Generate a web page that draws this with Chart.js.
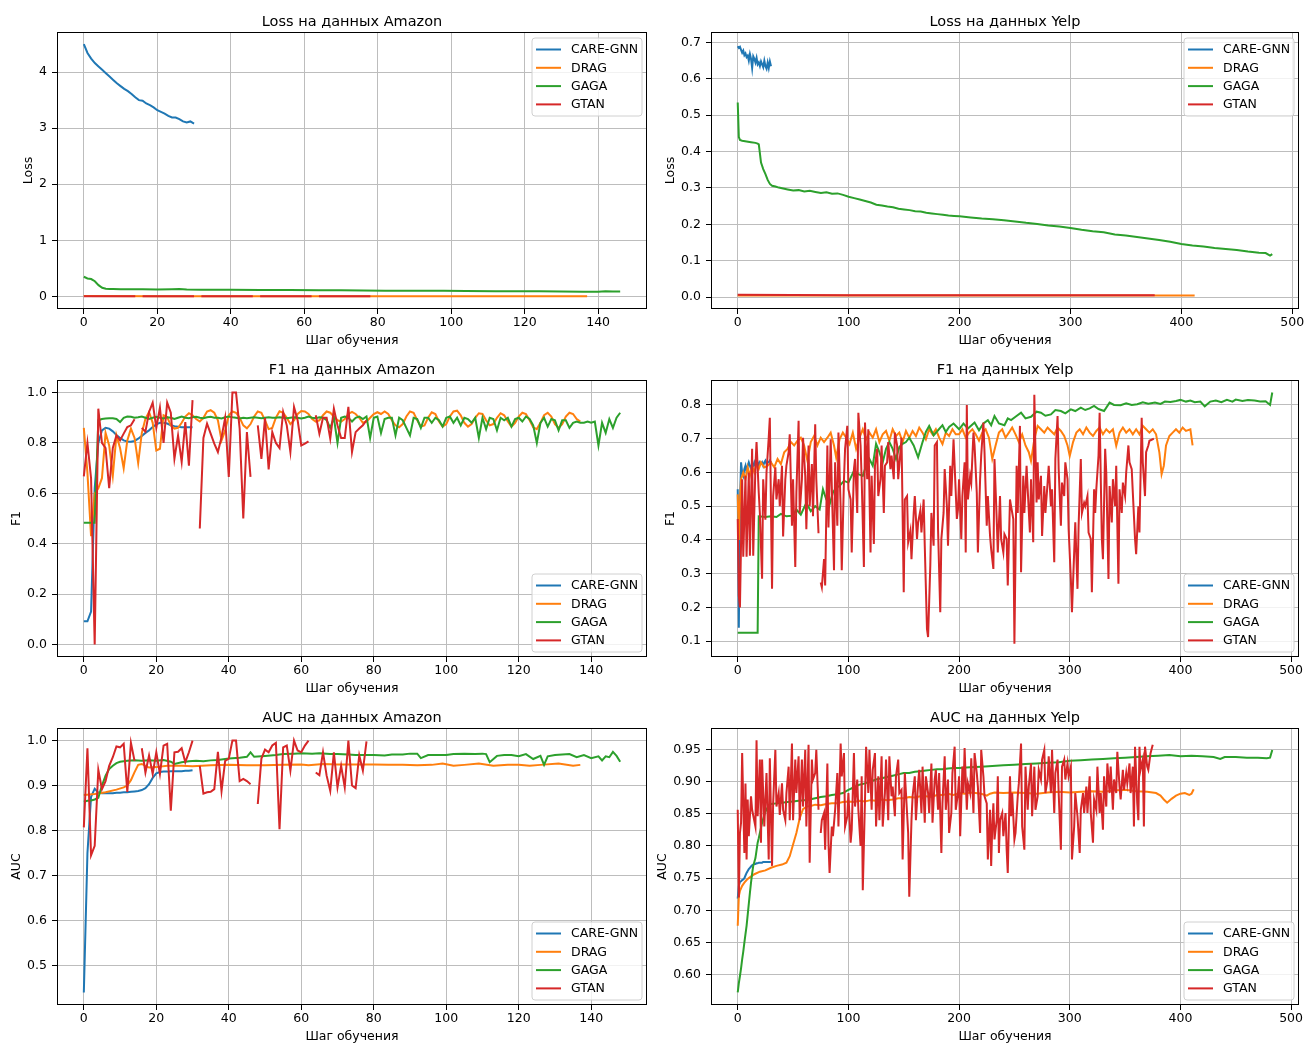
<!DOCTYPE html>
<html>
<head>
<meta charset="utf-8">
<script src="https://cdn.jsdelivr.net/npm/chart.js@4.4.0/dist/chart.umd.min.js"></script>
<style>
  body { margin: 0; background: #fff; }
  #wrap { position: relative; width: 1304px; height: 1044px; overflow: hidden; }
  .panel { position: absolute; width: 652px; height: 348px; }
</style>
</head>
<body>
<div id="wrap">
  <div class="panel" style="left:0;top:0"><canvas id="lossAmz" width="652" height="348"></canvas></div>
  <div class="panel" style="left:652px;top:0"><canvas id="lossYelp" width="652" height="348"></canvas></div>
  <div class="panel" style="left:0;top:348px"><canvas id="f1Amz" width="652" height="348"></canvas></div>
  <div class="panel" style="left:652px;top:348px"><canvas id="f1Yelp" width="652" height="348"></canvas></div>
  <div class="panel" style="left:0;top:696px"><canvas id="aucAmz" width="652" height="348"></canvas></div>
  <div class="panel" style="left:652px;top:696px"><canvas id="aucYelp" width="652" height="348"></canvas></div>
</div>
<script>
const seriesNames = ['CARE-GNN', 'DRAG', 'GAGA', 'GTAN'];
const seriesColors = ['#1f77b4', '#ff7f0e', '#2ca02c', '#d62728'];

const amzTicksX = [0, 20, 40, 60, 80, 100, 120, 140];
const yelpTicksX = [0, 100, 200, 300, 400, 500];
const lossAmzTicksY = [0, 1, 2, 3, 4];
const lossYelpTicksY = [0, 0.1, 0.2, 0.3, 0.4, 0.5, 0.6, 0.7];
const f1AmzTicksY = [0, 0.2, 0.4, 0.6, 0.8, 1.0];
const f1YelpTicksY = [0.1, 0.2, 0.3, 0.4, 0.5, 0.6, 0.7, 0.8];
const aucAmzTicksY = [0.5, 0.6, 0.7, 0.8, 0.9, 1.0];
const aucYelpTicksY = [0.6, 0.65, 0.7, 0.75, 0.8, 0.85, 0.9, 0.95];

// ---- Loss, Amazon ----
const careLossAmz = [4.5,4.34,4.24,4.16,4.1,4.04,3.98,3.92,3.86,3.8,3.75,3.7,3.66,3.61,3.55,3.5,3.49,3.44,3.41,3.37,3.32,3.29,3.26,3.22,3.19,3.19,3.16,3.12,3.1,3.12,3.08];
const dragLossAmz = [[0,0.006],[20,0.005],[40,0.005],[60,0.004],[80,0.004],[100,0.004],[120,0.003],[137,0.003]];
const gagaLossAmz = [[0,0.35],[1,0.32],[2,0.31],[3,0.27],[4,0.2],[5,0.155],[6,0.138],[7,0.132],[8,0.13],[10,0.128],[13,0.127],[16,0.126],[20,0.124],[24,0.127],[26,0.13],[28,0.124],[32,0.12],[40,0.118],[48,0.116],[56,0.113],[64,0.11],[70,0.109],[76,0.106],[82,0.1],[90,0.099],[98,0.1],[104,0.095],[112,0.093],[118,0.092],[124,0.09],[130,0.087],[136,0.085],[140,0.083],[142,0.09],[144,0.087],[146,0.089]];
const gtanLossAmz = [[0,0.004],[7,0.003],[14,0.003],[15,null],[16,0.003],[23,0.003],[30,0.003],[31,null],[32,0.003],[39,0.003],[46,0.003],[47,null],[48,0.003],[55,0.003],[62,0.003],[63,null],[64,0.003],[71,0.003],[78,0.003]];

// ---- Loss, Yelp ----
const careLossYelp = [0.69,0.685,0.688,0.68,0.672,0.678,0.665,0.67,0.66,0.664,0.65,0.668,0.655,0.63,0.662,0.655,0.645,0.658,0.64,0.645,0.635,0.648,0.64,0.632,0.65,0.635,0.628,0.645,0.63,0.648,0.635];
const dragLossYelp = [[0,0.004],[100,0.004],[200,0.004],[300,0.004],[412,0.004]];
const gagaLossYelp = [[0,0.535],[1,0.44],[2,0.432],[4,0.43],[8,0.428],[12,0.426],[16,0.424],[18,0.422],[19,0.42],[20,0.395],[21,0.37],[23,0.352],[25,0.338],[27,0.322],[29,0.311],[31,0.306],[34,0.304],[37,0.301],[40,0.299],[45,0.296],[50,0.293],[55,0.294],[60,0.29],[65,0.292],[70,0.289],[75,0.286],[80,0.288],[85,0.284],[90,0.285],[95,0.281],[100,0.276],[105,0.272],[110,0.268],[115,0.264],[120,0.26],[125,0.254],[130,0.252],[135,0.249],[140,0.247],[145,0.243],[150,0.241],[155,0.239],[160,0.236],[165,0.235],[170,0.232],[175,0.23],[180,0.228],[185,0.226],[190,0.224],[195,0.223],[200,0.222],[210,0.219],[220,0.216],[230,0.214],[240,0.211],[250,0.208],[260,0.204],[270,0.201],[280,0.197],[290,0.194],[300,0.19],[310,0.185],[320,0.181],[330,0.178],[340,0.172],[350,0.169],[360,0.165],[370,0.161],[380,0.157],[390,0.152],[400,0.146],[410,0.142],[420,0.139],[430,0.135],[440,0.132],[450,0.129],[460,0.125],[470,0.122],[476,0.121],[480,0.114],[482,0.118]];
const gtanLossYelp = [[0,0.006],[100,0.005],[200,0.005],[300,0.005],[376,0.005]];

// ---- F1, Amazon ----
const careF1Amz = [0.092,0.092,0.13,0.62,0.8,0.85,0.86,0.857,0.846,0.832,0.82,0.81,0.806,0.805,0.808,0.817,0.828,0.84,0.85,0.863,0.874,0.88,0.88,0.877,0.87,0.866,0.864,0.862,0.862,0.862,0.862];
const dragF1Amz = [0.86,0.68,0.43,0.6,0.62,0.66,0.84,0.79,0.67,0.83,0.78,0.7,0.81,0.857,0.82,0.72,0.84,0.896,0.923,0.88,0.77,0.777,0.91,0.903,
  0.87,0.857,0.86,0.88,0.905,0.918,0.91,0.895,0.885,0.9,0.925,0.93,0.92,0.89,0.81,0.85,0.91,0.925,0.92,0.9,0.87,0.858,0.875,0.905,0.925,0.92,0.89,0.855,0.86,0.9,0.926,0.92,0.9,0.875,0.89,0.915,
  0.927,0.925,0.915,0.895,0.885,0.89,0.91,0.925,0.92,0.905,0.89,0.885,0.895,0.915,0.923,0.915,0.9,0.88,0.885,0.9,0.915,0.922,0.915,
  0.925,0.915,0.89,0.87,0.862,0.875,0.905,0.925,0.92,0.89,0.865,0.87,0.9,0.922,0.915,0.885,0.865,0.875,0.905,0.925,0.928,0.91,0.88,0.865,0.875,0.9,0.918,0.915,0.89,0.87,0.875,0.9,0.918,0.91,0.885,0.865,0.88,0.905,0.92,0.915,0.89,0.862,0.855,0.88,0.91,0.92,0.905,0.875,0.86,0.875,0.905,0.92,0.915,0.895,0.885];
const gagaF1Amz = [0.483,0.483,0.483,0.483,0.89,0.895,0.897,0.898,0.898,0.895,
  0.883,0.9,0.905,0.904,0.9,0.902,0.905,0.9,0.895,0.9,
  0.904,0.9,0.897,0.902,0.9,0.895,0.9,0.905,0.9,0.898,
  0.902,0.904,0.9,0.898,0.902,0.904,0.9,0.9,0.897,0.902,
  0.905,0.902,0.9,0.897,0.9,0.898,0.9,0.902,0.9,0.898,
  0.9,0.902,0.9,0.9,0.902,0.9,0.898,0.9,0.902,0.9,
  0.897,0.9,0.905,0.9,0.898,0.902,0.9,0.89,0.86,0.9,
  0.8,0.9,0.905,0.9,0.885,0.9,0.905,0.895,0.905,0.82,
  0.9,0.905,0.84,0.895,0.9,0.9,0.83,0.9,0.89,0.86,
  0.83,0.9,0.895,0.86,0.9,0.9,0.88,0.9,0.89,0.865,
  0.9,0.905,0.88,0.9,0.87,0.9,0.895,0.88,0.9,0.82,
  0.9,0.855,0.9,0.895,0.85,0.9,0.89,0.9,0.865,0.895,
  0.9,0.885,0.905,0.895,0.87,0.8,0.88,0.9,0.865,0.895,
  0.89,0.85,0.89,0.89,0.86,0.88,0.885,0.88,0.88,0.885,
  0.88,0.885,0.79,0.88,0.84,0.895,0.86,0.9,0.92];
const gtanF1Amz = [0.667,0.8,0.66,0.0,0.936,0.8,0.78,0.62,0.78,0.83,0.81,0.837,0.863,0.87,0.894,null,
  0.86,0.845,0.923,0.96,0.86,0.94,0.8,0.96,0.92,0.737,0.83,0.725,0.883,0.71,0.97,null,
  0.46,0.82,0.877,0.837,0.797,0.764,0.823,0.9,0.665,1.0,1.0,0.857,0.5,0.843,0.665,null,
  0.87,0.737,0.9,0.695,0.843,0.8,0.78,0.923,0.87,0.764,0.943,0.89,0.79,0.797,0.806,null,
  0.91,0.837,0.9,0.9,0.817,0.936,0.87,0.82,0.82,0.943,0.764,0.843,0.857,0.87,0.89];

// ---- F1, Yelp ----
const careF1Yelp = [0.55,0.14,0.5,0.63,0.6,0.59,0.61,0.62,0.6,0.62,0.63,0.62,0.61,0.625,0.62,0.63,0.62,0.625,0.63,0.62,0.63,0.625,0.63,0.62,0.63,0.635,0.625,0.63,0.63,0.635,0.63];
const dragF1Yelp = [[0,0.535],[1,0.4],[2,0.51],[3,0.58],[5,0.6],[7,0.58],[9,0.615],[11,0.59],[13,0.62],[15,0.6],[17,0.625],[19,0.61],[21,0.63],[24,0.615],[27,0.62],[30,0.63],[33,0.615],[36,0.64],[39,0.625],[42,0.66],[45,0.67],[48,0.69],[51,0.68],[54,0.694],[57,0.703],[60,0.68],[63,0.634],[66,0.69],[69,0.708],[72,0.68],[75,0.703],[78,0.69],[81,0.703],[84,0.718],[87,0.68],[89,0.644],[92,0.698],[95,0.718],[98,0.703],[101,0.684],[104,0.718],[107,0.67],[110,0.703],[113,0.728],[116,0.698],[119,0.718],[122,0.703],[125,0.728],[128,0.69],[131,0.713],[134,0.723],[137,0.694],[140,0.728],[143,0.708],[146,0.718],[149,0.69],[152,0.723],[155,0.703],[158,0.723],[161,0.708],[164,0.733],[167,0.718],[170,0.698],[173,0.728],[176,0.713],[179,0.728],[182,0.703],[185,0.684],[188,0.718],[191,0.708],[194,0.728],[197,0.713],[200,0.713],[203,0.728],[206,0.703],[209,0.718],[212,0.728],[215,0.713],[218,0.694],[221,0.718],[224,0.728],[227,0.703],[230,0.64],[233,0.68],[236,0.718],[239,0.728],[242,0.703],[245,0.718],[248,0.733],[251,0.713],[254,0.69],[257,0.713],[260,0.68],[263,0.66],[265,0.634],[268,0.698],[271,0.738],[274,0.728],[277,0.718],[280,0.733],[283,0.723],[286,0.713],[289,0.733],[292,0.723],[295,0.708],[298,0.68],[300,0.649],[303,0.69],[306,0.718],[309,0.728],[312,0.713],[315,0.733],[318,0.718],[321,0.708],[324,0.723],[327,0.733],[330,0.713],[333,0.728],[336,0.718],[339,0.728],[342,0.679],[345,0.718],[348,0.733],[351,0.718],[354,0.728],[357,0.713],[360,0.728],[363,0.713],[366,0.738],[369,0.728],[372,0.718],[375,0.728],[378,0.713],[381,0.659],[383,0.595],[385,0.62],[387,0.68],[390,0.708],[393,0.718],[396,0.728],[399,0.718],[402,0.733],[405,0.723],[409,0.728],[411,0.68]];
const gagaF1Yelp = [[0,0.125],[18,0.125],[19,0.47],[25,0.468],[30,0.47],[35,0.468],[39,0.477],[44,0.47],[50,0.472],[53,0.49],[57,0.475],[62,0.51],[66,0.485],[70,0.5],[74,0.49],[77,0.55],[80,0.52],[83,0.505],[86,0.54],[89,0.555],[92,0.56],[96,0.575],[100,0.57],[105,0.605],[109,0.595],[113,0.59],[116,0.62],[119,0.64],[122,0.62],[125,0.685],[128,0.66],[131,0.63],[134,0.67],[137,0.69],[140,0.67],[143,0.64],[146,0.675],[149,0.685],[152,0.69],[155,0.703],[159,0.68],[163,0.645],[167,0.69],[170,0.72],[173,0.738],[177,0.71],[181,0.725],[185,0.74],[188,0.72],[191,0.735],[195,0.745],[200,0.728],[204,0.745],[208,0.73],[214,0.748],[218,0.725],[222,0.745],[226,0.755],[229,0.74],[232,0.767],[236,0.745],[241,0.74],[244,0.76],[247,0.755],[251,0.765],[256,0.777],[260,0.76],[265,0.765],[270,0.78],[274,0.777],[278,0.768],[283,0.772],[287,0.785],[292,0.782],[296,0.775],[301,0.787],[305,0.782],[310,0.792],[314,0.785],[318,0.79],[322,0.797],[326,0.788],[331,0.782],[336,0.807],[340,0.8],[346,0.799],[351,0.805],[356,0.8],[361,0.802],[366,0.808],[371,0.804],[377,0.807],[382,0.803],[386,0.81],[391,0.809],[396,0.812],[400,0.815],[405,0.81],[409,0.813],[413,0.808],[418,0.81],[422,0.796],[427,0.81],[432,0.813],[437,0.808],[442,0.815],[447,0.81],[450,0.816],[456,0.812],[461,0.815],[467,0.813],[472,0.81],[477,0.811],[481,0.8],[483,0.837]];
const gtanF1Yelp = [[0,0.462],[1,0.235],[2,0.2],[4,0.58],[5,0.35],[7,0.59],[8,0.35],[10,0.6],[11,0.353],[13,0.67],[14,0.353],[16,0.62],[17,0.69],[19,0.54],[20,0.48],[22,0.285],[23,0.58],[25,0.46],[26,0.6],[28,0.703],[29,0.762],[31,0.255],[32,0.53],[34,0.615],[35,0.52],[37,0.58],[38,0.5],[40,0.62],[41,0.41],[43,0.58],[44,0.62],[46,0.66],[47,0.713],[49,0.442],[50,0.58],[52,0.32],[53,0.54],[55,0.753],[56,0.48],[58,0.58],[59,0.703],[61,0.59],[62,0.432],[64,0.68],[65,0.5],[67,0.625],[68,0.47],[70,0.743],[71,0.58],[73,0.42],[74,null],[75,0.274],[76,0.26],[78,0.343],[79,0.265],[81,0.68],[82,0.437],[84,0.698],[85,0.56],[87,0.31],[88,0.63],[90,0.442],[91,0.718],[93,0.496],[94,0.31],[96,0.58],[97,0.67],[99,0.738],[100,0.55],[102,0.52],[103,0.363],[105,0.61],[106,0.64],[108,0.48],[109,0.777],[111,0.68],[112,0.58],[114,0.32],[115,0.748],[117,0.58],[118,0.728],[120,0.363],[121,0.59],[123,0.388],[124,0.62],[126,0.67],[127,0.53],[129,0.58],[130,0.68],[132,0.48],[133,0.62],[135,0.63],[136,0.69],[138,0.61],[139,0.65],[141,0.58],[142,0.718],[144,0.68],[145,0.58],[147,0.66],[148,0.703],[150,0.245],[151,0.52],[153,0.53],[154,0.393],[156,0.427],[157,0.343],[159,0.48],[160,0.53],[162,0.403],[163,0.452],[165,0.487],[166,0.422],[168,0.52],[169,0.383],[171,0.136],[172,0.112],[174,0.324],[175,0.48],[177,0.383],[178,0.68],[180,0.69],[181,0.432],[183,0.186],[184,0.403],[186,0.48],[187,0.61],[189,0.5],[190,0.383],[192,0.62],[193,0.53],[195,0.698],[196,0.62],[198,0.462],[199,0.49],[200,0.58],[202,0.403],[203,0.53],[205,0.63],[206,0.363],[207,0.8],[208,0.52],[210,0.59],[211,0.57],[213,0.718],[214,0.68],[216,0.54],[217,0.363],[219,0.58],[220,0.65],[222,0.748],[223,0.66],[225,0.442],[226,0.53],[228,0.412],[229,0.373],[231,0.314],[232,0.64],[234,0.462],[235,0.363],[237,0.53],[238,0.403],[240,0.363],[241,0.417],[243,0.403],[244,0.265],[246,0.52],[247,0.5],[249,0.462],[250,0.092],[252,0.62],[253,0.48],[255,0.738],[256,0.304],[258,0.59],[259,0.48],[261,0.62],[262,0.55],[264,0.422],[265,0.58],[267,0.393],[268,0.83],[270,0.511],[271,0.63],[272,0.52],[274,0.59],[275,0.412],[277,0.56],[278,0.48],[280,0.57],[281,0.62],[283,0.5],[284,0.55],[286,0.334],[287,0.64],[289,0.767],[290,0.61],[292,0.442],[293,0.57],[295,0.53],[296,0.63],[298,0.58],[299,0.432],[301,0.284],[302,0.186],[304,0.363],[305,0.452],[307,0.255],[308,0.442],[310,0.64],[311,0.48],[313,0.51],[314,0.5],[316,0.53],[317,0.422],[319,0.403],[320,0.245],[322,0.55],[323,0.48],[324,0.55],[326,0.65],[327,0.777],[329,0.403],[330,0.343],[332,0.67],[333,0.6],[335,0.284],[336,0.56],[338,0.452],[339,0.58],[341,0.5],[342,0.62],[344,0.27],[345,0.55],[347,0.48],[348,0.57],[350,0.53],[351,0.6],[353,0.68],[354,0.63],[356,0.61],[357,0.54],[359,0.403],[360,0.358],[362,0.5],[363,0.422],[365,0.762],[366,0.63],[368,0.53],[369,0.66],[371,0.68],[372,0.694],[374,0.697],[376,0.7]];

// ---- AUC, Amazon ----
const careAucAmz = [0.44,0.75,0.875,0.893,0.884,0.883,0.883,0.883,0.883,0.884,0.884,0.885,0.885,0.886,0.887,0.888,0.89,0.894,0.903,0.917,0.927,0.93,0.931,0.931,0.932,0.932,0.932,0.932,0.933,0.933,0.934];
const dragAucAmz = [[0,0.879],[3,0.881],[6,0.885],[9,0.891],[11,0.896],[12,0.9],[13,0.912],[14,0.93],[15,0.946],[16,0.948],[17,0.944],[18,0.94],[20,0.941],[23,0.944],[27,0.944],[30,0.943],[35,0.945],[40,0.946],[45,0.945],[50,0.945],[55,0.946],[60,0.947],[62,0.945],[66,0.948],[70,0.947],[75,0.947],[80,0.947],[84,0.946],[88,0.946],[92,0.945],[96,0.946],[99,0.949],[102,0.944],[105,0.946],[109,0.949],[113,0.944],[117,0.946],[120,0.946],[123,0.944],[126,0.946],[131,0.949],[135,0.944],[137,0.946]];
const gagaAucAmz = [[0,0.864],[1,0.866],[2,0.867],[3,0.869],[4,0.873],[5,0.9],[6,0.922],[7,0.937],[8,0.944],[9,0.95],[10,0.953],[12,0.955],[14,0.956],[16,0.955],[18,0.956],[20,0.955],[22,0.957],[24,0.953],[25,0.948],[27,0.952],[29,0.954],[31,0.955],[33,0.954],[35,0.956],[37,0.957],[40,0.96],[43,0.962],[45,0.964],[46,0.974],[47,0.964],[50,0.966],[53,0.968],[55,0.97],[58,0.971],[60,0.972],[63,0.971],[65,0.972],[68,0.97],[70,0.97],[73,0.969],[75,0.968],[78,0.968],[80,0.968],[83,0.967],[85,0.969],[88,0.969],[90,0.971],[92,0.971],[93,0.961],[95,0.968],[98,0.968],[100,0.968],[102,0.97],[105,0.971],[108,0.97],[110,0.971],[111,0.97],[112,0.952],[114,0.966],[116,0.968],[118,0.968],[120,0.965],[122,0.97],[124,0.959],[126,0.966],[127,0.946],[128,0.965],[130,0.968],[132,0.969],[134,0.97],[136,0.963],[138,0.968],[140,0.961],[142,0.965],[143,0.956],[144,0.965],[145,0.963],[146,0.975],[147,0.966],[148,0.953]];
const gtanAucAmz = [0.807,0.983,0.745,0.766,0.935,0.892,0.91,0.944,0.963,0.987,0.985,0.993,0.886,0.995,0.955,null,
  0.983,0.929,0.967,0.926,0.974,0.926,0.989,0.993,0.844,0.974,0.975,0.983,0.952,0.974,1.0,null,
  0.944,0.882,0.885,0.886,0.892,0.975,0.888,0.955,0.96,1.0,1.0,0.91,0.915,0.91,0.903,null,
  0.859,0.96,0.98,0.974,0.989,0.995,0.803,0.985,0.989,0.933,1.0,0.978,0.974,0.989,1.0,null,
  0.929,0.923,0.974,0.922,0.888,0.974,0.896,0.944,0.896,1.0,0.9,0.894,0.967,0.933,0.998];

// ---- AUC, Yelp ----
const careAucYelp = [0.718,0.738,0.744,0.745,0.747,0.748,0.75,0.754,0.758,0.761,0.764,0.766,0.768,0.77,0.771,0.772,0.772,0.773,0.773,0.774,0.774,0.774,0.774,0.775,0.775,0.775,0.775,0.775,0.775,0.775,0.775];
const dragAucYelp = [[0,0.676],[1,0.722],[2,0.73],[4,0.738],[6,0.743],[8,0.747],[10,0.75],[15,0.756],[20,0.76],[25,0.762],[30,0.766],[35,0.769],[40,0.771],[44,0.774],[47,0.784],[50,0.802],[53,0.82],[56,0.843],[59,0.857],[62,0.861],[66,0.862],[70,0.864],[75,0.863],[80,0.865],[85,0.866],[90,0.866],[95,0.868],[100,0.869],[105,0.868],[110,0.87],[115,0.869],[120,0.871],[125,0.87],[130,0.872],[135,0.871],[140,0.872],[145,0.874],[150,0.874],[155,0.876],[160,0.875],[165,0.877],[170,0.877],[175,0.876],[180,0.879],[185,0.879],[190,0.881],[195,0.879],[200,0.882],[205,0.881],[210,0.883],[215,0.882],[220,0.881],[225,0.878],[228,0.881],[232,0.883],[240,0.882],[250,0.883],[260,0.882],[270,0.881],[280,0.883],[290,0.884],[300,0.883],[310,0.884],[320,0.885],[330,0.884],[340,0.886],[350,0.887],[360,0.885],[370,0.884],[378,0.882],[382,0.878],[385,0.872],[388,0.867],[392,0.873],[396,0.878],[400,0.881],[404,0.882],[408,0.879],[410,0.881],[412,0.888]];
const gagaAucYelp = [[0,0.5725],[1,0.587],[2,0.598],[3,0.61],[4,0.624],[5,0.636],[6,0.65],[7,0.663],[8,0.676],[9,0.693],[10,0.71],[11,0.727],[12,0.743],[13,0.757],[14,0.769],[15,0.775],[16,0.781],[17,0.793],[18,0.805],[19,0.812],[20,0.82],[21,0.828],[22,0.836],[23,0.842],[24,0.848],[26,0.857],[28,0.862],[30,0.865],[35,0.866],[40,0.867],[45,0.868],[50,0.869],[55,0.87],[60,0.871],[65,0.872],[70,0.874],[75,0.876],[80,0.877],[85,0.879],[90,0.88],[95,0.882],[100,0.887],[105,0.891],[110,0.895],[115,0.897],[120,0.9],[125,0.903],[130,0.905],[135,0.907],[140,0.909],[145,0.911],[150,0.913],[155,0.913],[160,0.915],[165,0.916],[170,0.917],[175,0.918],[180,0.919],[185,0.919],[190,0.92],[195,0.921],[200,0.921],[210,0.922],[220,0.923],[230,0.924],[240,0.925],[250,0.926],[260,0.927],[270,0.928],[280,0.929],[290,0.93],[300,0.932],[310,0.933],[320,0.934],[330,0.935],[340,0.936],[350,0.937],[360,0.938],[370,0.939],[380,0.94],[390,0.941],[400,0.939],[410,0.94],[420,0.939],[430,0.938],[436,0.935],[440,0.938],[450,0.938],[460,0.937],[470,0.937],[478,0.936],[481,0.937],[483,0.949]];
const gtanAucYelp = [[0,0.856],[1,0.72],[2,0.82],[3,0.836],[4,0.944],[6,0.789],[7,0.897],[8,0.779],[9,0.872],[10,0.815],[12,0.877],[13,0.856],[16,0.83],[17,0.964],[18,0.846],[20,0.934],[21,0.805],[22,0.934],[24,0.83],[25,0.872],[26,0.913],[28,0.779],[29,0.936],[31,0.769],[32,0.866],[34,0.949],[35,0.861],[37,0.882],[38,0.848],[40,0.897],[41,0.856],[43,0.84],[44,0.882],[46,0.923],[47,0.84],[49,0.959],[50,0.84],[52,0.934],[53,0.882],[55,0.939],[56,0.84],[58,0.934],[59,0.861],[61,0.949],[62,0.83],[64,0.957],[65,0.774],[67,0.934],[68,0.903],[70,0.913],[71,0.949],[73,0.856],[74,null],[75,0.82],[76,0.84],[78,0.851],[79,0.794],[81,0.928],[82,0.805],[83,0.758],[85,0.83],[86,0.815],[88,0.856],[90,0.913],[91,0.83],[93,0.959],[94,0.908],[96,0.944],[97,0.83],[99,0.846],[100,0.882],[102,0.805],[103,0.825],[105,0.944],[106,0.861],[108,0.903],[109,0.856],[111,0.8],[112,0.908],[113,0.731],[115,0.872],[116,0.954],[118,0.882],[119,0.949],[121,0.856],[122,0.918],[124,0.944],[125,0.83],[127,0.908],[128,0.84],[130,0.939],[131,0.83],[133,0.882],[134,0.934],[136,0.84],[137,0.939],[139,0.877],[140,0.892],[142,0.846],[143,0.908],[145,0.934],[146,0.882],[148,0.887],[149,0.779],[151,0.913],[152,0.882],[154,0.82],[155,0.721],[157,0.84],[158,0.877],[160,0.908],[161,0.84],[163,0.897],[164,0.918],[166,0.851],[167,0.923],[169,0.836],[170,0.908],[172,0.882],[173,0.851],[175,0.928],[176,0.836],[178,0.903],[179,0.918],[181,0.856],[182,0.913],[184,0.789],[185,0.866],[187,0.939],[188,0.856],[190,0.903],[191,0.82],[193,0.851],[194,0.913],[196,0.954],[197,0.856],[199,0.882],[200,0.908],[201,0.815],[203,0.923],[204,0.882],[205,0.952],[207,0.856],[208,0.897],[210,0.882],[211,0.936],[213,0.851],[214,0.944],[216,0.913],[217,0.892],[219,0.82],[220,0.949],[222,0.908],[223,0.877],[225,0.866],[226,0.779],[228,0.856],[229,0.769],[230,0.83],[231,0.866],[232,0.81],[234,0.84],[235,0.908],[236,0.789],[237,0.84],[239,0.851],[240,0.815],[242,0.851],[243,0.794],[244,0.758],[246,0.908],[247,0.846],[248,0.882],[250,0.81],[251,0.82],[253,0.877],[254,0.897],[256,0.959],[257,0.83],[259,0.794],[260,0.923],[262,0.856],[263,0.892],[265,0.928],[266,0.846],[268,0.923],[269,0.856],[271,0.877],[272,0.918],[274,0.903],[275,0.934],[277,0.949],[278,0.882],[280,0.903],[281,0.939],[283,0.882],[284,0.949],[286,0.851],[287,0.913],[289,0.934],[290,0.882],[292,0.794],[293,0.923],[295,0.934],[296,0.903],[298,0.928],[299,0.908],[301,0.923],[302,0.779],[304,0.83],[305,0.882],[307,0.846],[309,0.789],[310,0.856],[312,0.882],[313,0.851],[315,0.892],[316,0.851],[318,0.908],[319,0.851],[321,0.805],[322,0.872],[324,0.856],[325,0.923],[327,0.851],[328,0.882],[330,0.825],[331,0.908],[333,0.861],[334,0.928],[336,0.882],[337,0.923],[339,0.856],[340,0.903],[342,0.882],[343,0.946],[345,0.892],[346,0.872],[348,0.918],[349,0.887],[351,0.913],[352,0.897],[354,0.928],[355,0.882],[357,0.923],[358,0.83],[359,0.954],[361,0.866],[362,0.84],[363,0.954],[364,0.918],[366,0.934],[367,0.83],[368,0.954],[370,0.923],[371,0.918],[373,0.944],[375,0.957]];

const FONT = 'DejaVu Sans';
const byStep = vals => vals.map((v, i) => ({ x: i, y: v }));
const byPairs = pairs => pairs.map(([x, y]) => ({ x, y }));

// frame, title, axis titles and legend, drawn like matplotlib does
const panelDeco = {
  id: 'panelDeco',
  afterDraw(chart, args, o) {
    const { ctx, chartArea: a } = chart;
    ctx.save();
    ctx.strokeStyle = '#000';
    ctx.lineWidth = 1;
    ctx.strokeRect(Math.round(a.left) + 0.5, Math.round(a.top) + 0.5, Math.round(a.right - a.left) - 1, Math.round(a.bottom - a.top) - 1);

    ctx.fillStyle = '#000';
    ctx.textAlign = 'center';
    ctx.textBaseline = 'alphabetic';
    ctx.font = `14.5px "${FONT}"`;
    ctx.fillText(o.title, (a.left + a.right) / 2, a.top - 6.5);

    ctx.font = `12.5px "${FONT}"`;
    ctx.fillText('Шаг обучения', (a.left + a.right) / 2, a.bottom + 35);

    // y label sits left of the widest tick label
    const yScale = chart.scales.y;
    let maxW = 0;
    yScale.ticks.forEach(t => { maxW = Math.max(maxW, ctx.measureText(String(t.label)).width); });
    ctx.save();
    ctx.translate(a.left - 10 - maxW - 4 - 6, (a.top + a.bottom) / 2);
    ctx.rotate(-Math.PI / 2);
    ctx.textBaseline = 'middle';
    ctx.fillText(o.yLabel, 0, 0);
    ctx.restore();

    // legend box
    const w = 110, h = 78;
    const bx = a.right - 5.5 - w;
    const by = o.legend === 'upper' ? a.top + 5.5 : a.bottom - 5.5 - h;
    ctx.beginPath();
    ctx.roundRect(bx + 0.5, by + 0.5, w, h, 3);
    ctx.fillStyle = 'rgba(255,255,255,0.8)';
    ctx.fill();
    ctx.strokeStyle = '#d0d0d0';
    ctx.stroke();
    ctx.textAlign = 'left';
    ctx.textBaseline = 'middle';
    seriesNames.forEach((name, i) => {
      const cy = by + 12 + i * 18.3;
      ctx.strokeStyle = seriesColors[i];
      ctx.lineWidth = 2;
      ctx.beginPath();
      ctx.moveTo(bx + 4.5, cy);
      ctx.lineTo(bx + 29.5, cy);
      ctx.stroke();
      ctx.fillStyle = '#000';
      ctx.fillText(name, bx + 39.5, cy + 0.5);
    });
    ctx.restore();
  }
};
Chart.register(panelDeco);

function makeChart(id, cfg) {
  const datasets = cfg.series.map((data, i) => ({
    label: seriesNames[i],
    data,
    borderColor: seriesColors[i],
    borderWidth: 2,
    pointRadius: 0,
    tension: 0,
    fill: false,
    spanGaps: false,
    order: 4 - i
  }));
  const gridOpts = { color: '#bdbdbd', lineWidth: 1, tickColor: '#000', tickLength: 5, drawTicks: true };
  return new Chart(document.getElementById(id), {
    type: 'line',
    data: { datasets },
    options: {
      responsive: false,
      animation: false,
      events: [],
      layout: { padding: { top: 32, right: 5, left: 0, bottom: 0 } },
      scales: {
        x: {
          type: 'linear', min: cfg.x[0], max: cfg.x[1],
          afterBuildTicks: s => { s.ticks = cfg.xTicks.map(v => ({ value: v })); },
          afterFit: s => { s.height = 39; s.paddingLeft = 0; s.paddingRight = 0; },
          grid: gridOpts,
          border: { display: false },
          ticks: { autoSkip: false, maxRotation: 0, padding: 1, color: '#000', font: { family: FONT, size: 12.5 }, callback: v => String(v) }
        },
        y: {
          type: 'linear', min: cfg.y[0], max: cfg.y[1],
          afterBuildTicks: s => { s.ticks = cfg.yTicks.map(v => ({ value: v })); },
          afterFit: s => { s.width = cfg.yWidth; s.paddingTop = 0; s.paddingBottom = 0; },
          grid: gridOpts,
          border: { display: false },
          ticks: { autoSkip: false, padding: 5, color: '#000', font: { family: FONT, size: 12.5 }, callback: v => cfg.yFmt(v) }
        }
      },
      plugins: {
        legend: { display: false },
        tooltip: { enabled: false },
        panelDeco: { title: cfg.title, yLabel: cfg.yLabel, legend: cfg.legend }
      }
    }
  });
}

const fmt0 = v => String(Math.round(v));
const fmt1 = v => v.toFixed(1);
const fmt2 = v => v.toFixed(2);

makeChart('lossAmz', {
  title: 'Loss на данных Amazon', yLabel: 'Loss', legend: 'upper', yWidth: 57,
  x: [-7.3, 153.3], y: [-0.2245, 4.7145], xTicks: amzTicksX, yTicks: lossAmzTicksY, yFmt: fmt0,
  series: [byStep(careLossAmz), byPairs(dragLossAmz), byPairs(gagaLossAmz), byPairs(gtanLossAmz)]
});
makeChart('lossYelp', {
  title: 'Loss на данных Yelp', yLabel: 'Loss', legend: 'upper', yWidth: 59,
  x: [-24.1, 506.1], y: [-0.033, 0.729], xTicks: yelpTicksX, yTicks: lossYelpTicksY, yFmt: fmt1,
  series: [byStep(careLossYelp), byPairs(dragLossYelp), byPairs(gagaLossYelp), byPairs(gtanLossYelp)]
});
makeChart('f1Amz', {
  title: 'F1 на данных Amazon', yLabel: 'F1', legend: 'lower', yWidth: 57,
  x: [-7.4, 155.4], y: [-0.05, 1.05], xTicks: amzTicksX, yTicks: f1AmzTicksY, yFmt: fmt1,
  series: [byStep(careF1Amz), byStep(dragF1Amz), byStep(gagaF1Amz), byStep(gtanF1Amz)]
});
makeChart('f1Yelp', {
  title: 'F1 на данных Yelp', yLabel: 'F1', legend: 'lower', yWidth: 59,
  x: [-24.15, 507.15], y: [0.053, 0.874], xTicks: yelpTicksX, yTicks: f1YelpTicksY, yFmt: fmt1,
  series: [byStep(careF1Yelp), byPairs(dragF1Yelp), byPairs(gagaF1Yelp), byPairs(gtanF1Yelp)]
});
makeChart('aucAmz', {
  title: 'AUC на данных Amazon', yLabel: 'AUC', legend: 'lower', yWidth: 57,
  x: [-7.4, 155.4], y: [0.412, 1.028], xTicks: amzTicksX, yTicks: aucAmzTicksY, yFmt: fmt1,
  series: [byStep(careAucAmz), byPairs(dragAucAmz), byPairs(gagaAucAmz), byStep(gtanAucAmz)]
});
makeChart('aucYelp', {
  title: 'AUC на данных Yelp', yLabel: 'AUC', legend: 'lower', yWidth: 59,
  x: [-24.15, 507.15], y: [0.553, 0.983], xTicks: yelpTicksX, yTicks: aucYelpTicksY, yFmt: fmt2,
  series: [byStep(careAucYelp), byPairs(dragAucYelp), byPairs(gagaAucYelp), byPairs(gtanAucYelp)]
});
</script>
</body>
</html>
